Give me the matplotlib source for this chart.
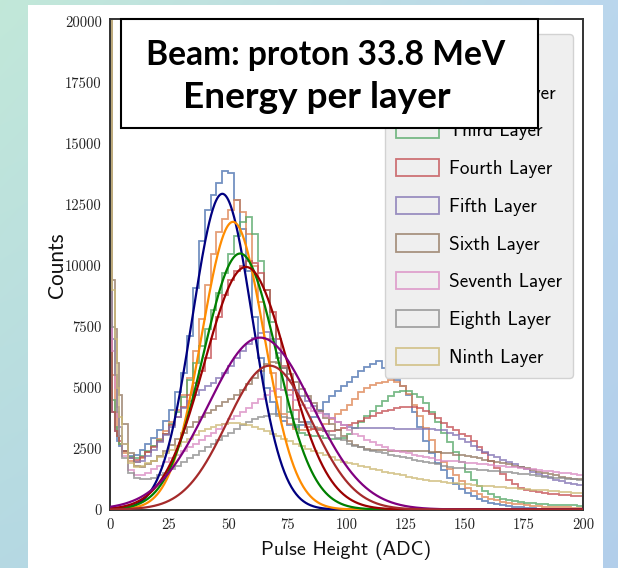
import numpy as np
import matplotlib
matplotlib.use("Agg")
import matplotlib.pyplot as plt
from matplotlib.patches import Rectangle

# ---------------- data ----------------
bin_edges = [0, 1, 2, 3, 4, 5] + list(np.arange(7.5, 200.1, 2.5))

layer_labels = ["First Layer", "Second Layer", "Third Layer", "Fourth Layer",
                "Fifth Layer", "Sixth Layer", "Seventh Layer", "Eighth Layer",
                "Ninth Layer"]
hist_colors = ["#4C72B0", "#DD8452", "#55A868", "#C44E52", "#8172B3",
               "#937860", "#DA8BC3", "#8C8C8C", "#CCB974"]

first_layer = [21000, 4000, 3200, 2800, 2600,
    2400, 2200, 2250, 2450, 2700, 2950, 3250, 3650,
    4100, 4800, 5600, 7100, 9100, 11000, 12300, 12900,
    13400, 13900, 13800, 12700, 11500, 9800, 7900, 6200,
    5000, 4400, 3900, 3650, 3450, 3400, 3450, 3600,
    3800, 4100, 4400, 4650, 4850, 5050, 5250, 5450,
    5700, 5850, 5950, 6100, 5800, 5500, 5300, 5050,
    4700, 4000, 3400, 2800, 2300, 1900, 1600, 1300,
    1050, 850, 680, 550, 440, 350, 280, 220,
    180, 150, 120, 90, 70, 55, 40, 30,
    25, 20, 15, 12, 10, 8]
second_layer = [21000, 5500, 4000, 3200, 2700,
    2300, 2000, 1950, 2100, 2350, 2600, 2900, 3200,
    3600, 4100, 4700, 5400, 6500, 7800, 9200, 10500,
    11400, 11900, 12300, 12700, 12200, 11300, 10000, 8500,
    7000, 5600, 4600, 3900, 3500, 3300, 3250, 3250,
    3300, 3350, 3500, 3700, 3900, 4100, 4300, 4550,
    4800, 5000, 5100, 5200, 5250, 5300, 5250, 5050,
    4750, 4300, 3850, 3350, 2850, 2350, 1950, 1650,
    1400, 1150, 900, 750, 620, 500, 430, 370,
    320, 280, 240, 210, 180, 150, 140, 120,
    110, 100, 90, 85, 80, 75]
third_layer = [21000, 4500, 3400, 3000, 2700,
    2400, 2150, 2100, 2200, 2400, 2600, 2850, 3100,
    3500, 4000, 4600, 5300, 6000, 6700, 7400, 8200,
    8900, 9700, 10500, 11200, 11800, 12000, 11300, 10200,
    9000, 7700, 6200, 4900, 4000, 3450, 3150, 3050,
    3000, 3000, 2950, 2900, 2900, 2950, 3100, 3350,
    3600, 3850, 4050, 4250, 4450, 4650, 4800, 4850,
    4850, 4750, 4600, 4350, 4000, 3600, 3150, 2750,
    2350, 1950, 1550, 1200, 950, 750, 620, 520,
    450, 390, 340, 300, 270, 250, 230, 210,
    200, 190, 180, 170, 165, 160]
fourth_layer = [21000, 4000, 3200, 3000, 2800,
    2400, 2100, 2050, 2150, 2350, 2550, 2800, 3100,
    3450, 3800, 4200, 4700, 5200, 5700, 6200, 7000,
    7900, 8800, 9400, 9800, 10000, 10200, 10100, 9700,
    9000, 8100, 7000, 5900, 4900, 4100, 3600, 3400,
    3300, 3250, 3200, 3200, 3250, 3350, 3450, 3550,
    3650, 3750, 3850, 3950, 4050, 4100, 4150, 4200,
    4200, 4200, 4150, 4050, 3900, 3750, 3550, 3400,
    3250, 3100, 3000, 2800, 2550, 2300, 2000, 1700,
    1450, 1200, 1050, 900, 820, 760, 720, 680,
    650, 630, 610, 590, 560, 540]
fifth_layer = [21000, 7000, 5500, 4200, 3400,
    2700, 2100, 1950, 2000, 2200, 2450, 2750, 3050,
    3400, 3800, 4150, 4450, 4700, 4900, 5050, 5200,
    5400, 5600, 5900, 6200, 6500, 6800, 7050, 7250,
    7300, 7000, 6400, 5800, 5300, 4900, 4650, 4450,
    4250, 4050, 3900, 3750, 3600, 3450, 3400, 3350,
    3350, 3350, 3350, 3350, 3350, 3350, 3300, 3300,
    3300, 3300, 3300, 3300, 3300, 3250, 3250, 3150,
    3050, 2900, 2750, 2600, 2450, 2350, 2250, 2150,
    2050, 1950, 1850, 1750, 1650, 1550, 1450, 1380,
    1300, 1230, 1160, 1100, 1050, 1000]
sixth_layer = [25000, 9400, 7400, 6000, 4700,
    3500, 2300, 1800, 1750, 1850, 2000, 2200, 2400,
    2650, 2900, 3150, 3400, 3600, 3800, 3950, 4100,
    4250, 4400, 4550, 4700, 4900, 5150, 5400, 5700,
    5950, 6050, 6000, 5800, 5550, 5250, 4950, 4650,
    4350, 4050, 3750, 3500, 3250, 3000, 2800, 2650,
    2550, 2500, 2450, 2450, 2450, 2400, 2400, 2400,
    2400, 2400, 2400, 2400, 2350, 2350, 2300, 2300,
    2250, 2250, 2200, 2150, 2100, 2050, 2000, 1950,
    1900, 1850, 1800, 1750, 1700, 1600, 1550, 1500,
    1450, 1400, 1350, 1300, 1270, 1250]
seventh_layer = [21000, 6500, 5000, 3800, 3000,
    2200, 1600, 1400, 1400, 1500, 1650, 1800, 1950,
    2100, 2250, 2400, 2550, 2700, 2850, 3000, 3150,
    3300, 3500, 3700, 3850, 4000, 4150, 4350, 4550,
    4700, 4850, 4950, 4900, 4700, 4500, 4300, 4150,
    4050, 3950, 3850, 3750, 3600, 3450, 3250, 3100,
    3000, 2850, 2750, 2650, 2550, 2450, 2400, 2350,
    2300, 2250, 2200, 2150, 2100, 2050, 2000, 2000,
    1980, 1950, 1920, 1900, 1880, 1850, 1820, 1800,
    1780, 1760, 1740, 1710, 1680, 1650, 1620, 1590,
    1560, 1530, 1500, 1480, 1450, 1430]
eighth_layer = [21000, 7500, 5500, 4000, 3000,
    2100, 1500, 1300, 1250, 1250, 1300, 1400, 1500,
    1650, 1800, 1950, 2100, 2250, 2400, 2550, 2700,
    2850, 3000, 3150, 3300, 3450, 3600, 3700, 3800,
    3850, 3900, 3850, 3800, 3750, 3700, 3600, 3500,
    3400, 3300, 3200, 3050, 2950, 2850, 2700, 2600,
    2550, 2450, 2400, 2350, 2300, 2250, 2200, 2150,
    2100, 2050, 2000, 1950, 1900, 1850, 1800, 1750,
    1720, 1700, 1680, 1650, 1620, 1600, 1580, 1560,
    1540, 1520, 1500, 1470, 1440, 1410, 1380, 1350,
    1320, 1300, 1280, 1260, 1240, 1230]
ninth_layer = [25000, 9000, 7000, 5000, 3800,
    2700, 1900, 1750, 1800, 1900, 2000, 2150, 2300,
    2450, 2600, 2750, 2900, 3050, 3200, 3300, 3400,
    3450, 3500, 3550, 3550, 3500, 3450, 3400, 3300,
    3200, 3100, 3000, 2900, 2800, 2700, 2600, 2500,
    2400, 2300, 2250, 2150, 2050, 1950, 1900, 1850,
    1800, 1750, 1650, 1600, 1550, 1500, 1450, 1400,
    1350, 1300, 1250, 1200, 1180, 1150, 1120, 1100,
    1070, 1050, 1030, 1000, 980, 960, 950, 940,
    920, 900, 880, 860, 840, 820, 800, 780,
    760, 740, 720, 700, 690, 680]

layers = [first_layer, second_layer, third_layer, fourth_layer, fifth_layer,
          sixth_layer, seventh_layer, eighth_layer, ninth_layer]

# Gaussian fits (amplitude, mean, sigma)
fit_amplitude = [12950, 11800, 10500, 9950, 7050, 5900]
fit_mean = [47.5, 52.0, 55.0, 57.5, 63.5, 67.5]
fit_sigma = [12.7, 13.2, 15.5, 17.5, 22.0, 18.0]
fit_colors = ["navy", "darkorange", "green", "#9b0000", "purple", "brown"]

x_ticks = [0, 25, 50, 75, 100, 125, 150, 175, 200]
y_ticks = [0, 2500, 5000, 7500, 10000, 12500, 15000, 17500, 20000]

# ---------------- figure ----------------
W, H = 618, 568
fig = plt.figure(figsize=(W / 100, H / 100), dpi=100)

# gradient background
bg = fig.add_axes([0, 0, 1, 1], zorder=-10)
yy, xx = np.mgrid[0:1:H * 1j, 0:1:W * 1j]
tl = np.array([0.76, 0.91, 0.85]); bl = np.array([0.71, 0.85, 0.89])
tr = np.array([0.73, 0.84, 0.93]); br = np.array([0.70, 0.81, 0.92])
img = (tl * ((1 - xx) * (1 - yy))[..., None] + tr * (xx * (1 - yy))[..., None]
       + bl * ((1 - xx) * yy)[..., None] + br * (xx * yy)[..., None])
bg.imshow(img, aspect="auto", extent=[0, 1, 0, 1])
bg.axis("off")

fig.add_artist(Rectangle((28 / W, 0), (603 - 28) / W, (H - 5) / H,
                         transform=fig.transFigure, facecolor="white",
                         edgecolor="none", zorder=-5))

ax = fig.add_axes([110 / W, 1 - 509.5 / H, 473 / W, 490.5 / H])
ax.set_facecolor("white")

for vals, col, lab in zip(layers, hist_colors, layer_labels):
    ax.hist(bin_edges[:-1], bins=bin_edges, weights=vals, histtype="step",
            color=col, lw=1.3, alpha=0.78, label=lab, zorder=2)

xs = np.linspace(0, 200, 801)
for A, m, s, c in zip(fit_amplitude, fit_mean, fit_sigma, fit_colors):
    ax.plot(xs, A * np.exp(-0.5 * ((xs - m) / s) ** 2), color=c, lw=1.6, zorder=3)

ax.set_xlim(0, 200)
ax.set_ylim(0, 20120)
ax.set_xticks(x_ticks)
ax.set_yticks(y_ticks)
ax.tick_params(length=0, pad=6)
for lbl in ax.get_xticklabels() + ax.get_yticklabels():
    lbl.set_fontfamily("cmr10")
    lbl.set_fontsize(10.5)
    lbl.set_color("#222222")
for sp in ax.spines.values():
    sp.set_color("#333333")
    sp.set_linewidth(1.4)

leg = ax.legend(loc="upper right", bbox_to_anchor=(0.979, 0.969),
                prop={"family": "cmss10", "size": 13.8},
                handlelength=2.24, handleheight=1.0, handletextpad=0.5,
                labelspacing=0.97, borderpad=0.6, borderaxespad=0,
                frameon=True, fancybox=True, framealpha=1,
                facecolor="#efefef", edgecolor="#d2d2d2")
leg.set_zorder(5)

fig.text(346 / W, 1 - 550 / H, "Pulse Height (ADC)", family="cmss10",
         fontsize=14.5, ha="center", va="center", color="#111111")
fig.text(57 / W, 1 - 265 / H, "Counts", family="Lato", fontsize=15,
         rotation=90, ha="center", va="center", color="#111111")

# title box
fig.add_artist(Rectangle((121 / W, 1 - 128 / H), (538 - 121) / W, (128 - 19) / H,
                         transform=fig.transFigure, facecolor="white",
                         edgecolor="black", lw=1.5, zorder=10))
t1 = fig.text(325.5 / W, 1 - 55 / H, "Beam: proton 33.8 MeV", family="Lato",
              fontweight="bold", fontsize=24, ha="center", va="center", zorder=11)
t2 = fig.text(316.5 / W, 1 - 97 / H, "Energy per layer", family="Lato",
              fontweight="bold", fontsize=24, ha="center", va="center", zorder=11)
fig.canvas.draw()
r = fig.canvas.get_renderer()
w1 = t1.get_window_extent(r).width
t1.set_fontsize(24 * 359 / w1)
w2 = t2.get_window_extent(r).width
t2.set_fontsize(24 * 268 / w2)

fig.savefig("out.png", dpi=100)
